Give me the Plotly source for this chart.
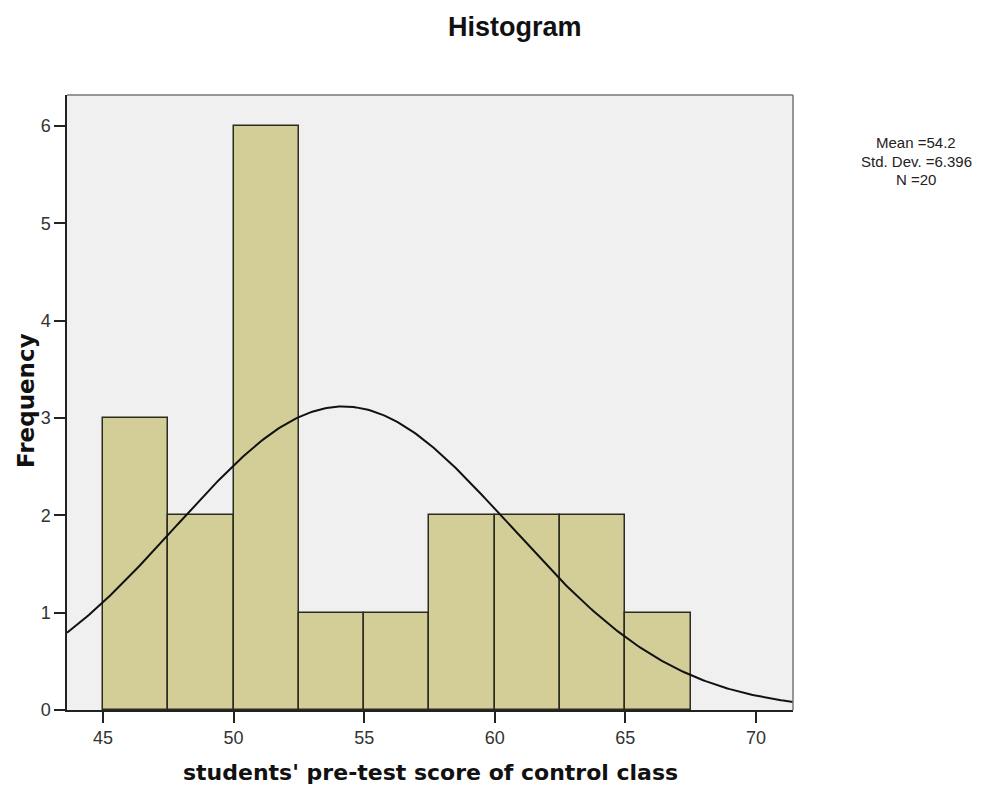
import numpy as np
import plotly.graph_objects as go

bin_left = [45, 47.5, 50, 52.5, 55, 57.5, 60, 62.5, 65]
counts = [3, 2, 6, 1, 1, 2, 2, 2, 1]
bin_width = 2.5
mean_val = 54.2
std_val = 6.396
n_val = 20
x_ticks = [45, 50, 55, 60, 65, 70]
y_ticks = [0, 1, 2, 3, 4, 5, 6]
stat_lines = [f"Mean ={mean_val}", f"Std. Dev. ={std_val}", f"N ={n_val}"]

centers = [b + bin_width / 2 for b in bin_left]

x_range = [43.62, 71.42]
xc = np.linspace(x_range[0], x_range[1], 300)
yc = n_val * bin_width * np.exp(-0.5 * ((xc - mean_val) / std_val) ** 2) / (std_val * np.sqrt(2 * np.pi))

# page offset of 8px (body margin); plot area in page px: x 67..793, y 95..710
PW, PH = 726, 615
def px(xp):
    return (xp - 67) / PW
def py(yp):
    return (710 - yp) / PH

fig = go.Figure()
fig.add_trace(go.Bar(
    x=centers, y=counts, width=bin_width,
    marker=dict(color="#d3ce98", line=dict(color="#2b2b20", width=1.5)),
    showlegend=False, hoverinfo="skip"))
fig.add_trace(go.Scatter(
    x=xc, y=yc, mode="lines", line=dict(color="#111111", width=2),
    showlegend=False, hoverinfo="skip"))

annotations = [
    dict(text="<b>Histogram</b>", xref="paper", yref="paper", x=px(515), y=py(27),
         xanchor="center", yanchor="middle", showarrow=False,
         font=dict(size=27, color="#111", family="Liberation Sans, Arial")),
    dict(text="<b>students' pre-test score of control class</b>", xref="paper", yref="paper",
         x=0.5, y=py(772), xanchor="center", yanchor="middle",
         showarrow=False, font=dict(size=22, color="#111", family="DejaVu Sans")),
    dict(text="<b>Frequency</b>", xref="paper", yref="paper",
         x=px(26), y=py(401), xanchor="center", yanchor="middle",
         textangle=-90, showarrow=False, font=dict(size=23, color="#111", family="DejaVu Sans")),
]
for i, line in enumerate(stat_lines):
    annotations.append(dict(text=line, xref="paper", yref="paper", x=px(916), y=py(143 + 18 * i),
                            xanchor="center", yanchor="middle", showarrow=False,
                            font=dict(size=15, color="#222", family="Liberation Sans, Arial")))

fig.update_layout(
    width=975, height=782,
    margin=dict(l=59, r=190, t=87, b=80),
    paper_bgcolor="white", plot_bgcolor="#f0f0f0",
    font=dict(family="Liberation Sans, Arial", color="#222222"),
    bargap=0,
    xaxis=dict(range=x_range, tickvals=x_ticks, ticks="outside", ticklen=11,
               tickcolor="#222", tickwidth=1.5, showline=True, linecolor="#222", linewidth=1.5,
               showgrid=False, zeroline=False,
               tickfont=dict(size=18, color="#333")),
    yaxis=dict(range=[0, 6.32], tickvals=y_ticks, ticks="outside", ticklen=11,
               tickcolor="#222", tickwidth=1.5, showline=True, linecolor="#222", linewidth=1.5,
               showgrid=False, zeroline=False,
               tickfont=dict(size=18, color="#333")),
    shapes=[
        dict(type="line", xref="paper", yref="paper", x0=0, x1=1, y0=1, y1=1,
             line=dict(color="#777", width=1.5)),
        dict(type="line", xref="paper", yref="paper", x0=1, x1=1, y0=0, y1=1,
             line=dict(color="#777", width=1.5)),
    ],
    annotations=annotations,
)

fig.write_html("out.html")
